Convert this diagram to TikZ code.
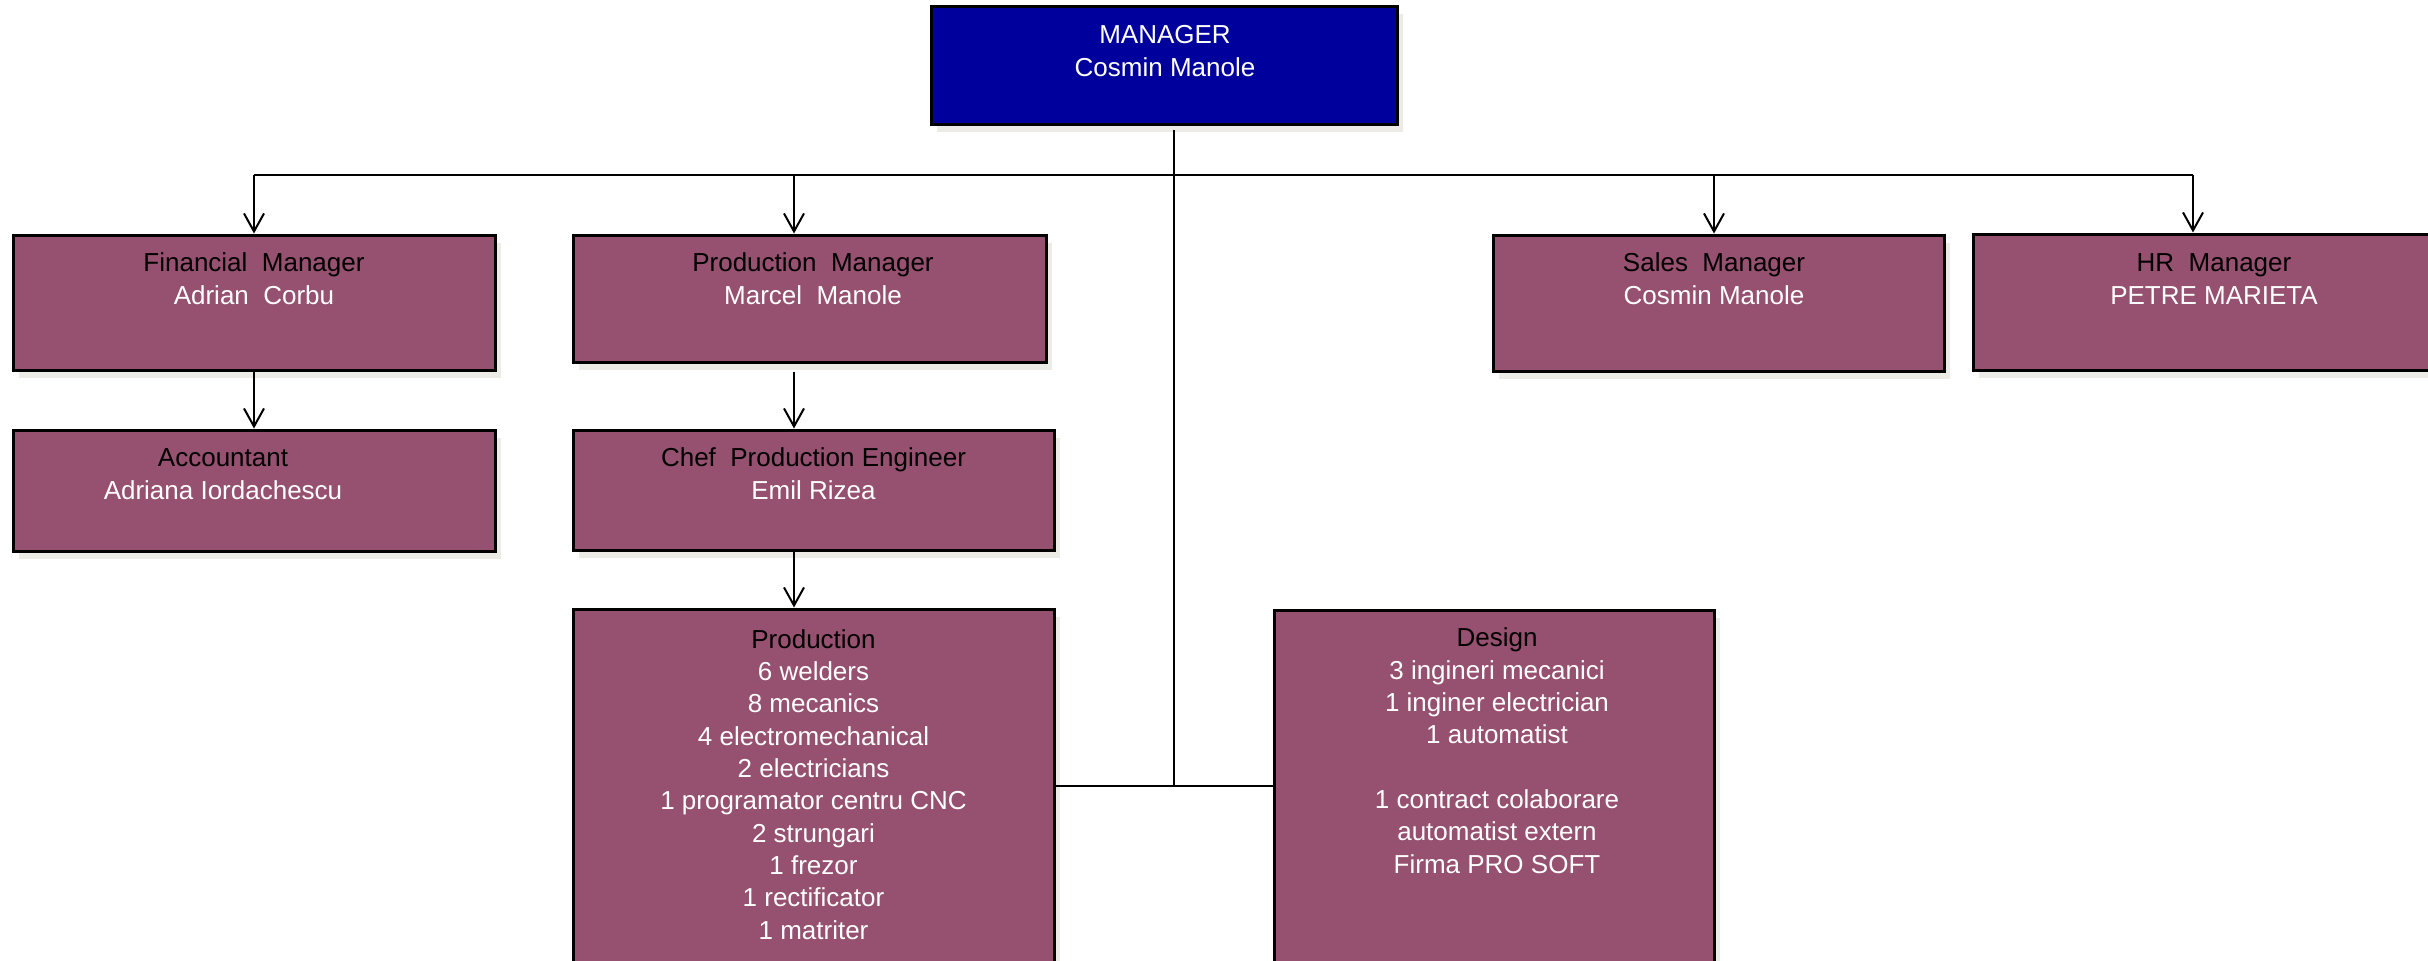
\documentclass[tikz,border=0pt]{standalone}
\usepackage{fontspec}
\setmainfont{Liberation Sans}
\usetikzlibrary{arrows.meta,shadows}
\definecolor{boxfill}{RGB}{150,80,112}
\definecolor{mgrfill}{RGB}{0,0,156}
\definecolor{shadowgray}{RGB}{236,235,230}
\tikzset{
  >={Straight Barb[length=9pt,width=10pt]},
  box/.style 2 args={draw=black, line width=1.5pt, fill=boxfill, inner sep=0pt,
    minimum width=#1, minimum height=#2,
    drop shadow={shadow xshift=3pt, shadow yshift=-4pt, fill=shadowgray, opacity=1}},
  txt/.style={anchor=base, align=center, inner sep=0pt, font=\fontsize{13}{16.15}\selectfont},
  conn/.style={line width=1pt}
}
\begin{document}
\begin{tikzpicture}[x=0.5pt,y=-0.5pt]
\clip (0,0) rectangle (2428,960);

% boxes
\node[box={233pt}{59pt}, fill=mgrfill] (mgr) at (1164,65) {};
\node[box={241pt}{67.5pt}] (fin) at (254,302.5) {};
\node[box={241pt}{60.5pt}] (acc) at (254,490.5) {};
\node[box={236.5pt}{63.5pt}] (pm) at (809.5,298.5) {};
\node[box={240.5pt}{60pt}] (chef) at (813.5,490) {};
\node[box={240.5pt}{195.5pt}] (prod) at (813.5,804.5) {};
\node[box={220pt}{195pt}] (design) at (1494,805) {};
\node[box={225.5pt}{68pt}] (sales) at (1718.5,303) {};
\node[box={241pt}{68pt}] (hr) at (2214,302) {};

% texts (base = baseline of the last line)
\node[txt, text=white] (t-mgr) at (1165,76) {MANAGER\\Cosmin Manole};
\node[txt] (t-fin) at (254,304) {Financial~~Manager\\\textcolor{white}{Adrian~~Corbu}};
\node[txt] (t-acc) at (223,499) {Accountant\\\textcolor{white}{Adriana Iordachescu}};
\node[txt] (t-pm) at (813,304) {Production~~Manager\\\textcolor{white}{Marcel~~Manole}};
\node[txt] (t-chef) at (813.5,499) {Chef~~Production Engineer\\\textcolor{white}{Emil Rizea}};
\node[txt] (t-sales) at (1714,304) {Sales~~Manager\\\textcolor{white}{Cosmin Manole}};
\node[txt] (t-hr) at (2214,304) {HR~~Manager\\\textcolor{white}{PETRE MARIETA}};
\node[txt, text=white] (t-prod) at (813.5,939) {\textcolor{black}{Production}\\6 welders\\8 mecanics\\
  4 electromechanical\\2 electricians\\1 programator centru CNC\\2 strungari\\1 frezor\\
  1 rectificator\\1 matriter};
\node[txt, text=white] (t-design) at (1497,873) {\textcolor{black}{Design}\\3 ingineri mecanici\\
  1 inginer electrician\\1 automatist\\[16.15pt]1 contract colaborare\\automatist extern\\Firma PRO SOFT};

%---------------------------------
\coordinate (top) at (1174,130);
\coordinate (b1) at (254,175);
\coordinate (b2) at (794,175);
\coordinate (b3) at (1714,175);
\coordinate (b4) at (2193,175);
\coordinate (j) at (1174,786);

\draw[conn] (b1) -- (b4);
\draw[conn] (top) -- (j);
\draw[conn] (prod.east |- j) -- (design.west |- j);

\draw[conn,->] (b1) -- (fin.north);
\draw[conn,->] (b2) -- (b2 |- pm.north);
\draw[conn,->] (b3) -- (b3 |- sales.north);
\draw[conn,->] (b4) -- (b4 |- hr.north);

\draw[conn,->] (fin.south) -- (acc.north);
\draw[conn,->] ([yshift=-4pt]pm.south -| b2) -- (chef.north -| b2);
\draw[conn,->] (chef.south -| b2) -- (prod.north -| b2);

\end{tikzpicture}
\end{document}
